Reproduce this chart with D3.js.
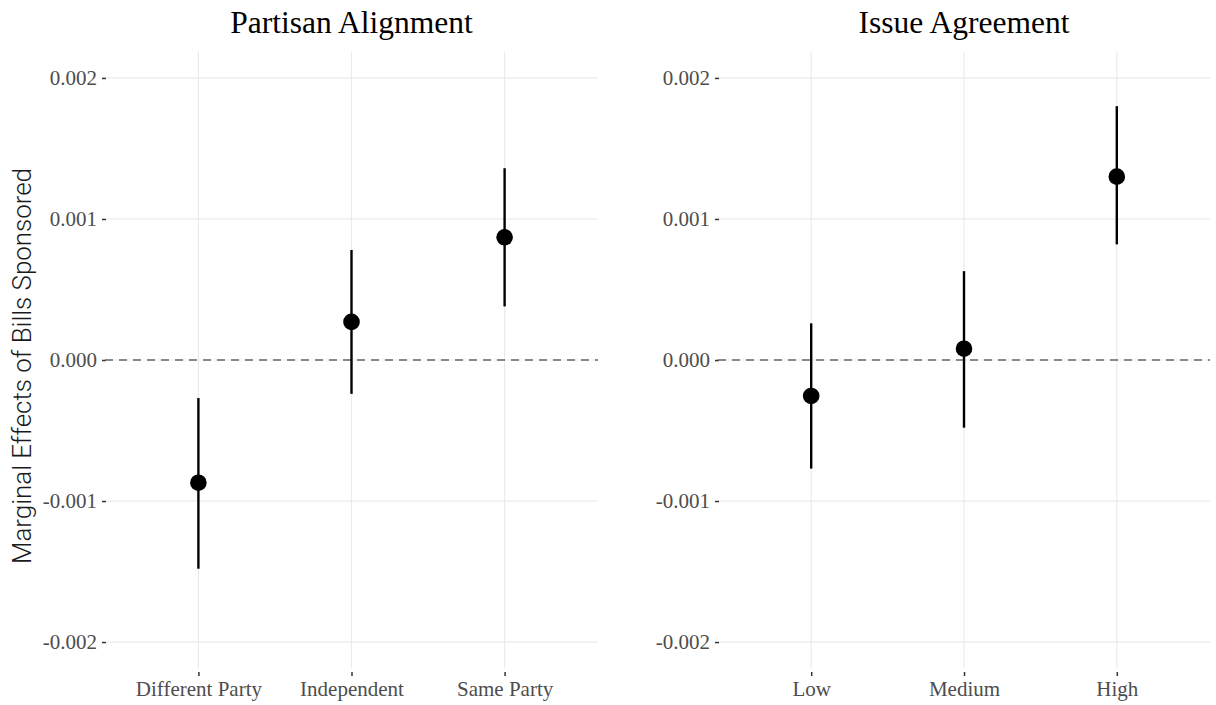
<!DOCTYPE html>
<html>
<head>
<meta charset="utf-8">
<script src="https://cdn.jsdelivr.net/npm/d3@7"></script>
<style>
  body { margin: 0; background: #fff; }
  svg { display: block; }
</style>
</head>
<body>
<div id="chart"></div>
<script>
// panel 1: partisan alignment
var partisanCats = ["Different Party", "Independent", "Same Party"];
var partisanEst = [-0.00087, 0.00027, 0.00087];
var partisanLo = [-0.00148, -0.00024, 0.00038];
var partisanHi = [-0.00027, 0.00078, 0.00136];

// panel 2: issue agreement
var issueCats = ["Low", "Medium", "High"];
var issueEst = [-0.000255, 0.00008, 0.0013];
var issueLo = [-0.00077, -0.00048, 0.00082];
var issueHi = [0.00026, 0.00063, 0.0018];

var yTicks = [-0.002, -0.001, 0, 0.001, 0.002];

var width = 1216, height = 705;
var serif = "'Liberation Serif', 'DejaVu Serif', serif";

var svg = d3.select("#chart").append("svg")
    .attr("width", width)
    .attr("height", height);

var y = d3.scaleLinear()
    .domain([-0.002184, 0.002184])
    .range([668, 52]);

var fmt = d3.format(".3f");

var panels = [
  {title: "Partisan Alignment", cats: partisanCats, est: partisanEst, lo: partisanLo, hi: partisanHi, x0: 105, x1: 598},
  {title: "Issue Agreement", cats: issueCats, est: issueEst, lo: issueLo, hi: issueHi, x0: 718, x1: 1210}
];

panels.forEach(function(p) {
  var x = d3.scalePoint()
      .domain(p.cats)
      .range([p.x0, p.x1])
      .padding(0.61);

  var g = svg.append("g");

  // gridlines
  g.selectAll(".hgrid").data(yTicks).enter().append("line")
      .attr("x1", p.x0).attr("x2", p.x1)
      .attr("y1", function(d) { return y(d); })
      .attr("y2", function(d) { return y(d); })
      .attr("stroke", "#ebebeb").attr("stroke-width", 1.2);

  g.selectAll(".vgrid").data(p.cats).enter().append("line")
      .attr("x1", function(d) { return x(d); })
      .attr("x2", function(d) { return x(d); })
      .attr("y1", y.range()[1]).attr("y2", y.range()[0])
      .attr("stroke", "#ebebeb").attr("stroke-width", 1.2);

  // y axis
  var yAxis = d3.axisLeft(y).tickValues(yTicks).tickSize(4).tickPadding(5)
      .tickFormat(function(d) { return fmt(d).replace("\u2212", "-"); });
  var ya = g.append("g")
      .attr("transform", "translate(" + (p.x0 + 1) + ",0)")
      .call(yAxis);
  ya.select(".domain").remove();
  ya.selectAll(".tick line").attr("stroke", "#333").attr("stroke-width", 1.5);
  ya.selectAll(".tick text")
      .attr("fill", "#4d4d4d")
      .style("font-family", serif)
      .style("font-size", "21px");

  // x axis
  var xAxis = d3.axisBottom(x).tickSize(4).tickPadding(5);
  var xa = g.append("g")
      .attr("transform", "translate(0," + (y.range()[0] + 4) + ")")
      .call(xAxis);
  xa.select(".domain").remove();
  xa.selectAll(".tick line").attr("stroke", "#333").attr("stroke-width", 1.5);
  xa.selectAll(".tick text")
      .attr("fill", "#4d4d4d")
      .style("font-family", serif)
      .style("font-size", "21px");

  // zero reference line
  g.append("line")
      .attr("x1", p.x0).attr("x2", p.x1)
      .attr("y1", y(0)).attr("y2", y(0))
      .attr("stroke", "#666").attr("stroke-width", 1.5)
      .attr("stroke-dasharray", "8,6");

  var idx = d3.range(p.cats.length);

  // error bars
  g.selectAll(".ci").data(idx).enter().append("line")
      .attr("x1", function(i) { return x(p.cats[i]); })
      .attr("x2", function(i) { return x(p.cats[i]); })
      .attr("y1", function(i) { return y(p.lo[i]); })
      .attr("y2", function(i) { return y(p.hi[i]); })
      .attr("stroke", "#000").attr("stroke-width", 2.4);

  // points
  g.selectAll(".pt").data(idx).enter().append("circle")
      .attr("cx", function(i) { return x(p.cats[i]); })
      .attr("cy", function(i) { return y(p.est[i]); })
      .attr("r", 8.3)
      .attr("fill", "#000");

  // title
  g.append("text")
      .attr("x", (p.x0 + p.x1) / 2)
      .attr("y", 33)
      .attr("text-anchor", "middle")
      .style("font-family", serif)
      .style("font-size", "31.5px")
      .attr("fill", "#000")
      .text(p.title);
});

// shared y-axis title
svg.append("text")
    .attr("transform", "translate(31,366) rotate(-90)")
    .attr("text-anchor", "middle")
    .style("font-family", "Roboto, 'Liberation Sans', sans-serif")
    .style("font-size", "25px")
    .style("font-weight", 300)
    .attr("fill", "#1a1a1a")
    .attr("textLength", 396)
    .attr("lengthAdjust", "spacingAndGlyphs")
    .text("Marginal Effects of Bills Sponsored");
</script>
</body>
</html>
